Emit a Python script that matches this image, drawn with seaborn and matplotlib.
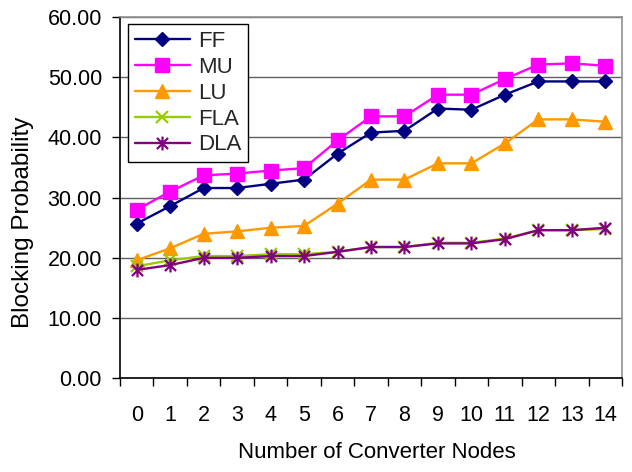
import numpy as np
import pandas as pd
import matplotlib
matplotlib.use("Agg")
import matplotlib.pyplot as plt
from matplotlib.path import Path
from matplotlib.ticker import FixedLocator, FormatStrFormatter
import seaborn as sns

nodes = list(range(15))
ff = [25.7, 28.6, 31.6, 31.6, 32.3, 33.0, 37.3, 40.8, 41.1, 44.8, 44.6, 47.1, 49.3, 49.3, 49.3]
mu = [28.0, 31.0, 33.7, 34.0, 34.5, 34.9, 39.5, 43.5, 43.5, 47.1, 47.1, 49.7, 52.1, 52.3, 51.9]
lu = [19.6, 21.6, 24.0, 24.4, 25.0, 25.3, 29.0, 33.0, 33.0, 35.7, 35.7, 39.0, 43.0, 43.0, 42.6]
fla = [18.6, 19.6, 20.3, 20.3, 20.6, 20.6, 21.0, 21.8, 21.8, 22.5, 22.5, 23.2, 24.6, 24.6, 24.8]
dla = [18.0, 18.8, 20.0, 20.0, 20.3, 20.3, 21.0, 21.8, 21.8, 22.4, 22.4, 23.1, 24.6, 24.6, 25.0]
series_names = ["FF", "MU", "LU", "FLA", "DLA"]
y_ticks = [0, 10, 20, 30, 40, 50, 60]

sns.set_theme(style="white")
plt.rcParams['font.family'] = ['Liberation Sans', 'DejaVu Sans']

star = Path([(0, -1), (0, 1), (-0.8, -0.8), (0.8, 0.8), (-0.8, 0.8), (0.8, -0.8)],
            [Path.MOVETO, Path.LINETO, Path.MOVETO, Path.LINETO, Path.MOVETO, Path.LINETO])

styles = {
    "FF": dict(color="#000080", marker="D", ms=7.5, mew=1),
    "MU": dict(color="#FF00FF", marker="s", ms=9.5, mew=1),
    "LU": dict(color="#FF9900", marker="^", ms=10.5, mew=1),
    "FLA": dict(color="#99CC00", marker="x", ms=9, mew=1.6),
    "DLA": dict(color="#800080", marker=star, ms=10, mew=1.6),
}

df = pd.DataFrame({"nodes": nodes, "FF": ff, "MU": mu, "LU": lu, "FLA": fla, "DLA": dla})

fig = plt.figure(figsize=(6.32, 4.72), dpi=100)
ax = fig.add_axes([120/632, 1 - 378.3/472, 502/632, 361.3/472])

for name in series_names:
    st = styles[name]
    sns.lineplot(data=df, x="nodes", y=name, ax=ax, color=st["color"], marker=st["marker"],
                 markersize=st["ms"], markeredgewidth=st["mew"], markeredgecolor=st["color"],
                 linewidth=1.7, label=name)

ax.set_xlim(-0.5, 14.5)
ax.set_ylim(0, 60)
ax.set_yticks(y_ticks)
ax.yaxis.set_major_formatter(FormatStrFormatter("%.2f"))
ax.set_xticks(nodes)
ax.set_xticklabels([str(n) for n in nodes])
ax.xaxis.set_minor_locator(FixedLocator(np.arange(-0.5, 15, 1)))
ax.tick_params(axis="x", which="major", length=0, labelsize=15.5, pad=19, colors="black")
ax.tick_params(axis="x", which="minor", length=6, width=1, direction="out", color="black", bottom=True)
ax.tick_params(axis="y", which="major", length=6, width=1, direction="out", labelsize=15.5, pad=7, left=True, colors="black")
ax.grid(axis="y", color="#606060", linewidth=1)
ax.set_axisbelow(True)

for s in ["left", "bottom"]:
    ax.spines[s].set_color("black")
    ax.spines[s].set_linewidth(1.2)
for s in ["top", "right"]:
    ax.spines[s].set_color("#909090")
    ax.spines[s].set_linewidth(1.2)

ax.set_xlabel("Number of Converter Nodes", fontsize=16, color="black")
ax.set_ylabel("Blocking Probability", fontsize=17.5, color="black")
ax.xaxis.set_label_coords((377 - 120) / 502, -(452 - 378.3) / 361.3)
ax.yaxis.set_label_coords(-(120 - 23) / 502, (378.3 - 222) / 361.3)
ax.xaxis.label.set_verticalalignment("center")
ax.yaxis.label.set_verticalalignment("center")

leg = ax.legend(loc="upper left", bbox_to_anchor=(0.016, 0.98), fontsize=16, frameon=True,
                fancybox=False, edgecolor="black", framealpha=1, handlelength=2.5,
                handletextpad=0.35, labelspacing=0.22, borderpad=0.3, borderaxespad=0)
leg.get_frame().set_linewidth(1)

fig.savefig("out.png", dpi=100)
